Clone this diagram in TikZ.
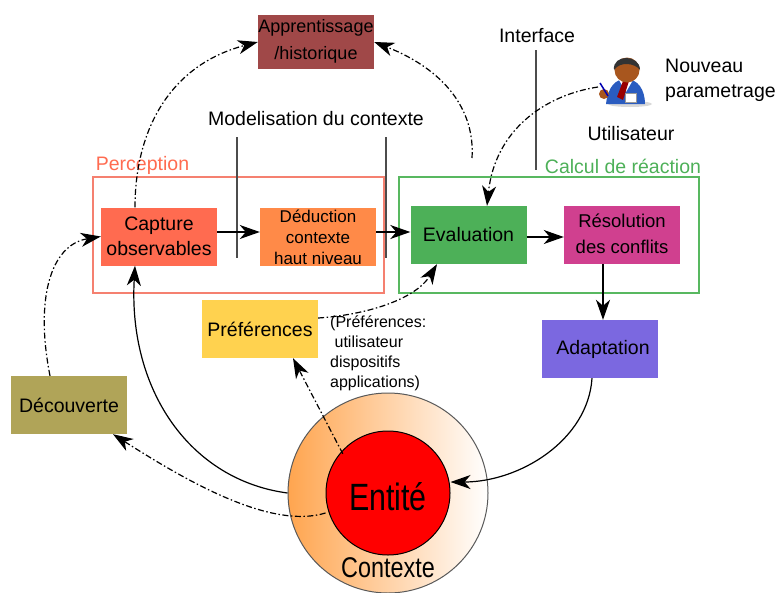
\documentclass[tikz,border=0pt]{standalone}
\usepackage{fontspec}
\setmainfont{Liberation Sans}
\usetikzlibrary{arrows.meta}
\definecolor{colhist}{HTML}{A04848}
\definecolor{colcapture}{HTML}{FF6B50}
\definecolor{coldeduction}{HTML}{FF8A48}
\definecolor{coleval}{HTML}{4DB058}
\definecolor{colconflict}{HTML}{D0408F}
\definecolor{coladapt}{HTML}{7B68E0}
\definecolor{colpref}{HTML}{FFD24F}
\definecolor{coldecouverte}{HTML}{B0A458}
\definecolor{colframegreen}{HTML}{58B860}
\definecolor{colframered}{HTML}{F58070}
\definecolor{colshell}{HTML}{FFA54F}
\definecolor{colskin}{HTML}{A8561E}
\definecolor{colsuit}{HTML}{2A5CC0}
\tikzset{
  module/.style={minimum width=116pt,minimum height=58pt,inner sep=0pt,align=center,font=\fontsize{19.5}{25}\selectfont},
  label/.style={inner sep=0pt,align=left,font=\fontsize{19.5}{25}\selectfont},
  link/.style={line width=1.2pt,-{Stealth[length=20pt,width=14pt,inset=6pt]}},
  dlink/.style={link,dash pattern=on 6pt off 2.5pt on 1.5pt off 2.5pt},
  marker/.style={draw=black!70,line width=1.1pt}
}

\begin{document}
\begin{tikzpicture}[x=1pt,y=-1pt]
  \useasboundingbox (0,0) rectangle (778,592);
  % frames
  \node[draw=colframered,line width=1.3pt,minimum width=291pt,minimum height=116pt,inner sep=0pt] (perception) at (238.5,235) {};
  \node[draw=colframegreen,line width=1.3pt,minimum width=300pt,minimum height=116pt,inner sep=0pt] (calcul) at (549,235) {};
  \node[label,text=colcapture] (perceptiontxt) at (142.5,165) {Perception};
  \node[label,text=coleval] (calcultxt) at (623,166) {Calcul de réaction};

  % modules
  \node[module,fill=colhist,minimum height=54pt,font=\fontsize{18}{27}\selectfont] (hist) at (316,42) {\raisebox{6pt}{Apprentissage}\\\raisebox{6pt}{/historique}};
  \node[module,fill=colcapture] (capture) at (159,236.5) {Capture\\observables};
  \node[module,fill=coldeduction,font=\fontsize{17}{21}\selectfont] (deduction) at (318,237) {Déduction\\contexte\\haut niveau};
  \node[module,fill=coleval] (eval) at (468.5,235) {Evaluation};
  \node[module,fill=colconflict,font=\fontsize{18.5}{26}\selectfont] (conflit) at (622,235) {\raisebox{3pt}{Résolution}\\\raisebox{3pt}{des conflits}};
  \node[module,fill=coladapt] (adapt) at (600,349) {\hspace{6pt}Adaptation};
  \node[module,fill=colpref] (pref) at (260,329) {\raisebox{-2pt}{Préférences}};
  \node[module,fill=coldecouverte] (decouverte) at (69,405) {Découverte};

  % entity
  \node[circle,draw=black!65,line width=1pt,minimum size=200pt,inner sep=0pt,left color=colshell,right color=white] (contexte) at (388,493) {};
  \node[circle,draw=black,line width=1pt,fill=red,minimum size=124pt,inner sep=0pt] (entite) at (388,493) {};
  \node[inner sep=0pt,xscale=.8,font=\fontsize{38}{38}\selectfont] (entitetxt) at (388,497) {Entité};
  \node[inner sep=0pt,xscale=.82,font=\fontsize{28.5}{28.5}\selectfont] (contextetxt) at (388,568) {Contexte};

  % text
  \node[label] (modelisation) at (316,119) {Modelisation du contexte};
  \node[label] (interface) at (537,36) {Interface};
  \node[label,anchor=west] (parametrage) at (665,80) {Nouveau\\parametrage};
  \node[label] (utilisateur) at (631,134) {Utilisateur};
  \node[inner sep=0pt,anchor=west,align=left,font=\fontsize{16}{20}\selectfont] (preftxt) at (330,353) {(Préférences:\\\ utilisateur\\dispositifs\\applications)};

  % user
  \fill[black!15] (630,104) ellipse (22 and 3);
  \fill[colsuit] (606,104) .. controls (608,86) and (616,79) .. (626,79) .. controls (638,79) and (645,90) .. (645,104) -- cycle;
  \fill[white] (619,80) -- (633,80) -- (626,92) -- cycle;
  \fill[red!60!black] (623,81) -- (629,81) -- (623,100) -- (617,97) -- cycle;
  \fill[white,draw=black!40] (625,93) rectangle (636,102);
  \fill[colskin] (627,70) circle (12.5);
  \fill[black!80] (614,70) .. controls (612,54) and (640,54) .. (640,70) .. controls (635,63) and (620,61) .. (614,70) -- cycle;
  \fill[colskin] (604,94) circle (5);
  \draw[blue!70!black,line width=1.5pt] (600,83) -- (608,96);
  \coordinate (user) at (598,87);

  % markers
  \coordinate (m1a) at (237,137);
  \coordinate (m1b) at (237,258);
  \coordinate (m2a) at (386,137);
  \coordinate (m2b) at (386,258);
  \coordinate (m3a) at (536,50);
  \coordinate (m3b) at (536,170);
  \draw[marker] (m1a) -- (m1b);
  \draw[marker] (m2a) -- (m2b);
  \draw[marker] (m3a) -- (m3b);

  % solid links
  \draw[link] (capture.east |- 0,232) -- (deduction.west |- 0,232);
  \draw[link] (deduction.east |- 0,232) -- (eval.west |- 0,232);
  \draw[link] (eval.east |- 0,237) -- (conflit.west |- 0,237);
  \draw[link] (conflit.south -| 603,0) -- (adapt.north -| 603,0);
  \draw[link] (adapt.south -| 592,0) .. controls (588,440) and (520,482) .. (entite.east |- 0,482);
  \draw[link] (contexte.west) .. controls (190,480) and (128,390) .. (capture.south -| 135,0);

  % dash-dot links
  \draw[dlink] (decouverte.north -| 50,0) .. controls (35,300) and (50,245) .. (capture.west);
  \draw[dlink] (capture.north -| 135,0) .. controls (135,130) and (170,65) .. (hist.west);
  \draw[dlink] (m3b -| 472,0) ++(0,-12) .. controls (475,110) and (445,70) .. (hist.east);
  \draw[dlink] (user) .. controls (545,95) and (495,130) .. (eval.north -| 487,0);
  \draw[dlink] (pref.east |- 0,318) .. controls (365,315) and (415,300) .. (eval.south -| 437,0);
  \draw[dlink] (entite.north west) ++(-1,5) -- (pref.south -| 293,0);
  \draw[dlink] (entite.west |- 0,513) .. controls (270,530) and (185,480) .. (decouverte.south -| 113,0);
\end{tikzpicture}
\end{document}
